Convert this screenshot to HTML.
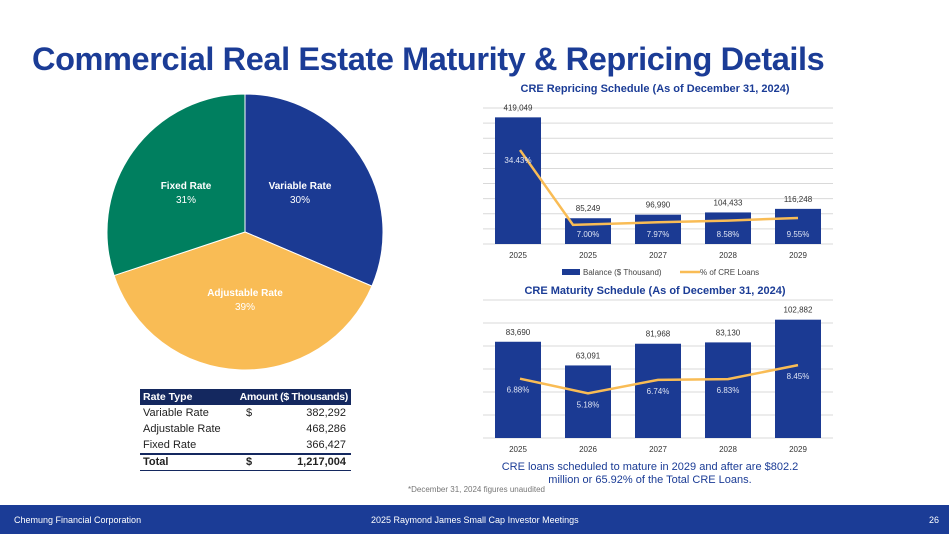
<!DOCTYPE html>
<html><head><meta charset="utf-8"><style>
body{margin:0;width:949px;height:534px;overflow:hidden;background:#fff;font-family:"Liberation Sans",sans-serif;position:relative}
.abs{position:absolute}
</style></head><body>
<div class="abs" style="left:32px;top:41px;font-size:32.5px;font-weight:bold;color:#1B3C96;letter-spacing:-0.4px;white-space:nowrap">Commercial Real Estate Maturity &amp; Repricing Details</div>
<svg class="abs" style="left:0;top:0" width="949" height="534" id="svg">
<g id="pie"></g>
<g id="rep"></g>
<g id="mat"></g>
</svg>
<div class="abs" style="left:140px;top:389px;width:211px;font-size:11px;color:#222">
<div style="background:#14285F;color:#fff;font-weight:bold;height:16px;line-height:16px;display:flex;font-size:10.5px;white-space:nowrap"><span style="width:95px;padding-left:3px">Rate Type</span><span style="flex:1;text-align:right;padding-right:3px;letter-spacing:-0.3px">Amount ($ Thousands)</span></div>
<div style="height:16px;line-height:16px;display:flex"><span style="width:103px;padding-left:3px">Variable Rate</span><span style="width:20px">$</span><span style="flex:1;text-align:right;padding-right:5px">382,292</span></div>
<div style="height:16px;line-height:16px;display:flex"><span style="width:103px;padding-left:3px">Adjustable Rate</span><span style="width:20px"></span><span style="flex:1;text-align:right;padding-right:5px">468,286</span></div>
<div style="height:16px;line-height:16px;display:flex"><span style="width:103px;padding-left:3px">Fixed Rate</span><span style="width:20px"></span><span style="flex:1;text-align:right;padding-right:5px">366,427</span></div>
<div style="height:15px;line-height:15px;display:flex;font-weight:bold;border-top:2px solid #14285F;border-bottom:1px solid #14285F"><span style="width:103px;padding-left:3px">Total</span><span style="width:20px">$</span><span style="flex:1;text-align:right;padding-right:5px">1,217,004</span></div>
</div>
<div class="abs" style="left:500px;top:461px;width:300px;text-align:center;font-size:11px;color:#1B3C96;line-height:13px">CRE loans scheduled to mature in 2029 and after are $802.2 million or 65.92% of the Total CRE Loans.</div>
<div class="abs" style="left:408px;top:485px;font-size:8px;color:#777">*December 31, 2024 figures unaudited</div>
<div class="abs" style="left:0;top:505px;width:949px;height:29px;background:#1B3C96;color:#fff;font-size:9px">
<span class="abs" style="left:14px;top:10px">Chemung Financial Corporation</span>
<span class="abs" style="left:371px;top:10px">2025 Raymond James Small Cap Investor Meetings</span>
<span class="abs" style="left:929px;top:10px">26</span>
</div>
<script>
const pieLabels=["Variable Rate","Adjustable Rate","Fixed Rate"];
const pieValues=[382292,468286,366427];
const piePctLabels=["30%","39%","31%"];
const years=["2025","2025","2027","2028","2029"];
const mYears=["2025","2026","2027","2028","2029"];
const repBal=[419049,85249,96990,104433,116248];
const repPct=[34.43,7.00,7.97,8.58,9.55];
const matBal=[83690,63091,81968,83130,102882];
const matPct=[6.88,5.18,6.74,6.83,8.45];
const NS="http://www.w3.org/2000/svg";
function mk(p,t,a,txt){const e=document.createElementNS(NS,t);for(const k in a)e.setAttribute(k,a[k]);if(txt!==undefined)e.textContent=txt;p.appendChild(e);return e;}
const pie=document.getElementById('pie');const cx=245,cy=232,r=138;const cols=["#1B3A93","#F9BC55","#007F5F"];
const tot=pieValues.reduce((a,b)=>a+b,0);let ang=-Math.PI/2;
const labPos=[[300,189],[245,296],[186,189]];
pieValues.forEach((v,i)=>{const a2=ang+v/tot*2*Math.PI;const la=(a2-ang)>Math.PI?1:0;
const s=mk(pie,'path',{d:`M${cx},${cy}L${cx+r*Math.cos(ang)},${cy+r*Math.sin(ang)}A${r},${r} 0 ${la} 1 ${cx+r*Math.cos(a2)},${cy+r*Math.sin(a2)}Z`,fill:cols[i],stroke:'#fff','stroke-width':1});


const t=mk(pie,'text',{x:labPos[i][0],y:labPos[i][1],'text-anchor':'middle','font-size':10,'font-weight':'bold',fill:'#fff'},pieLabels[i]);


const t2=mk(pie,'text',{x:labPos[i][0],y:labPos[i][1]+14,'text-anchor':'middle','font-size':10,fill:'#fff'},piePctLabels[i]);


ang=a2;});
function fmt(n){return n.toLocaleString('en-US');}
function chart(g,cfg){
const x0=483,w=70,bw=46;const y=v=>cfg.base-v/cfg.max*cfg.h;const y2=v=>cfg.base-v/cfg.pmax*cfg.h;
for(let i=0;i<=cfg.n;i++){const gy=cfg.base-i*cfg.h/cfg.n;const l=mk(g,'line',{x1:x0,x2:x0+350,y1:gy,y2:gy,stroke:'#d9d9d9','stroke-width':1});}
mk(g,'text',{x:655,y:cfg.title_y,'text-anchor':'middle','font-size':11,'font-weight':'bold',fill:'#1B3C96'},cfg.title);
cfg.bal.forEach((v,i)=>{const bx=x0+i*w+(w-bw)/2;const b=mk(g,'rect',{x:bx,y:y(v),width:bw,height:cfg.base-y(v),fill:'#1B3A93'});

const t=mk(g,'text',{x:bx+bw/2,y:y(v)-7,'text-anchor':'middle','font-size':8,fill:'#333'},fmt(v));
const xl=mk(g,'text',{x:bx+bw/2,y:cfg.base+14,'text-anchor':'middle','font-size':8,fill:'#333'},cfg.cats[i]);});
const pts=cfg.pct.map((p,i)=>[x0+i*w+w/2,y2(p)]);
pts[0][0]=x0+w/2+2;if(cfg.shift)pts[1][0]-=15;
const pl=mk(g,'polyline',{points:pts.map(p=>p.join(',')).join(' '),fill:'none',stroke:'#F9BC55','stroke-width':2.5});
cfg.pct.forEach((p,i)=>{const bx=x0+i*w+w/2;const ly=cfg.lblY(i,y2(p));const t=mk(g,'text',{x:bx,y:ly,'text-anchor':'middle','font-size':8,fill:'#dfe4f3'},p.toFixed(2)+'%');});
}
chart(document.getElementById('rep'),{title:'CRE Repricing Schedule (As of December 31, 2024)',title_y:92,base:244,h:136,max:450000,n:9,pmax:49.85,bal:repBal,pct:repPct,cats:years,shift:true,lblY:(i,py)=>i==0?py+13:237});
chart(document.getElementById('mat'),{title:'CRE Maturity Schedule (As of December 31, 2024)',title_y:294,base:438,h:138,max:120000,n:6,pmax:16,bal:matBal,pct:matPct,cats:mYears,shift:false,lblY:(i,py)=>py+14});
const rep=document.getElementById('rep');
const lb=mk(rep,'rect',{x:562,y:269,width:18,height:6,fill:'#1B3A93'});
mk(rep,'text',{x:583,y:275,'font-size':8,fill:'#444'},'Balance ($ Thousand)');
const ll=mk(rep,'line',{x1:680,x2:700,y1:272,y2:272,stroke:'#F9BC55','stroke-width':2.5});
mk(rep,'text',{x:700,y:275,'font-size':8,fill:'#444'},'% of CRE Loans');
</script>
</body></html>
